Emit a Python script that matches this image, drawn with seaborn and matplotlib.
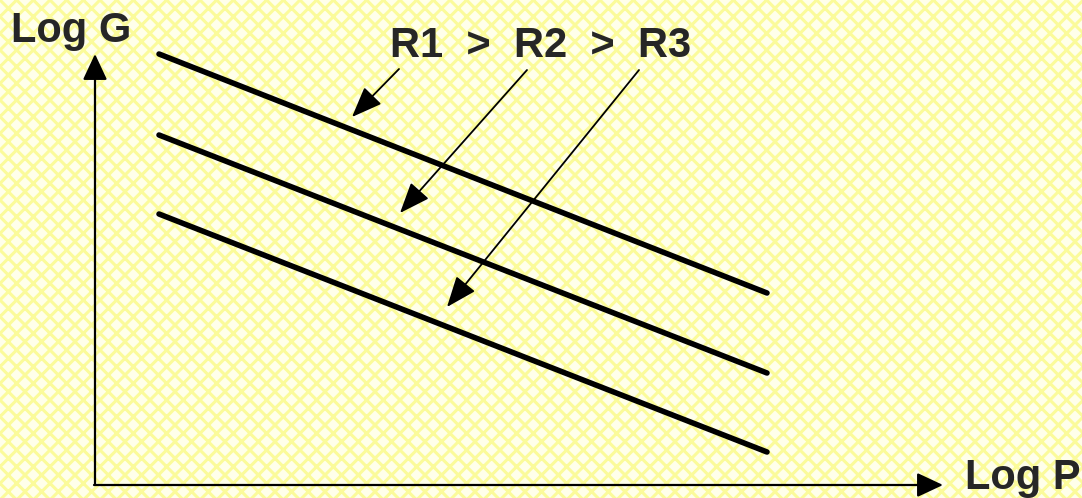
import matplotlib
matplotlib.use('Agg')
import matplotlib.pyplot as plt
import seaborn as sns
import pandas as pd

# data: Log P vs Log G for three R values (arbitrary units, origin at axes corner)
log_p = [64, 672]
log_g_r1 = [431, 192]
log_g_r2 = [350, 112]
log_g_r3 = [271, 33]
series_names = ['R1', 'R2', 'R3']

# callout arrows: start under the label, tip just above each line
callout_start = [(304, 416), (432, 415), (544, 415)]
callout_tip = [(257, 368), (305, 272), (352, 178)]

df = pd.concat([
    pd.DataFrame({'logP': log_p, 'logG': g, 'R': n})
    for g, n in zip([log_g_r1, log_g_r2, log_g_r3], series_names)
])

sns.set_style('white')
plt.rcParams['font.family'] = ['Liberation Sans', 'DejaVu Sans']
plt.rcParams['hatch.color'] = '#fbfb9a'
plt.rcParams['hatch.linewidth'] = 2.2

fig = plt.figure(figsize=(10.82, 4.98), dpi=100)
fig.patch.set_facecolor('#ffffff')
ax = fig.add_axes([0, 0, 1, 1])
ax.set_xlim(-95, 987)
ax.set_ylim(-13, 485)
ax.patch.set_facecolor('#ffffea')
ax.patch.set_hatch('xx')
ax.patch.set_edgecolor('#fbfb9a')
for s in ax.spines.values():
    s.set_visible(False)
ax.set_xticks([])
ax.set_yticks([])

sns.lineplot(data=df, x='logP', y='logG', units='R', estimator=None,
             color='black', lw=4.0, ax=ax, legend=False)
ax.set_xlabel('')
ax.set_ylabel('')

# axes with arrows
head = '-|>,head_length=1.6,head_width=0.75'
ax.annotate('', xy=(0, 431), xytext=(0, 0),
            arrowprops=dict(arrowstyle=head, color='black', lw=1.6, shrinkA=0, shrinkB=0))
ax.annotate('', xy=(848, 0), xytext=(-1, 0),
            arrowprops=dict(arrowstyle=head, color='black', lw=1.6, shrinkA=0, shrinkB=0))

ax.text(-24, 443, 'Log G', fontsize=30, fontweight='bold', ha='center', va='baseline')
ax.text(928, -4, 'Log P', fontsize=30, fontweight='bold', ha='center', va='baseline')
ax.text(446, 428, 'R1  >  R2  >  R3', fontsize=30, fontweight='bold', ha='center', va='baseline')

# callout arrows from labels to lines
for start, tip in zip(callout_start, callout_tip):
    ax.annotate('', xy=tip, xytext=start,
                arrowprops=dict(arrowstyle='-|>,head_length=1.9,head_width=0.75',
                                color='black', lw=1.3, shrinkA=0, shrinkB=0))

fig.savefig('out.png', dpi=100)
